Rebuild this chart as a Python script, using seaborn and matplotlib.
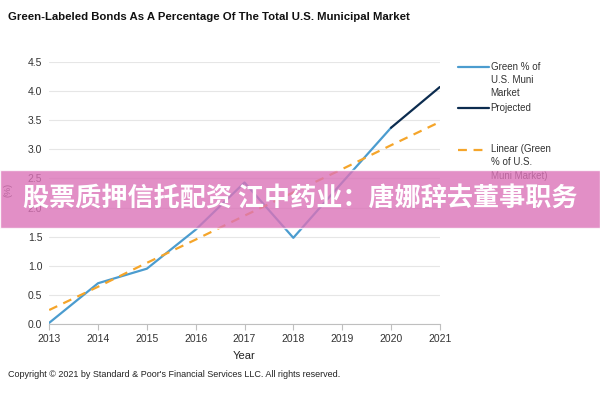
import pandas as pd
import numpy as np
import matplotlib.pyplot as plt
import seaborn as sns
from matplotlib.patches import Rectangle

years = [2013, 2014, 2015, 2016, 2017, 2018, 2019, 2020]
green_pct = [0.02, 0.70, 0.95, 1.62, 2.43, 1.48, 2.43, 3.37]
proj_years = [2020, 2021]
proj_pct = [3.37, 4.07]
trend_years = [2013, 2014, 2015, 2016, 2017, 2018, 2019, 2020, 2021]
trend_pct = [0.24, 0.64, 1.05, 1.45, 1.86, 2.26, 2.66, 3.07, 3.47]
year_ticks = list(range(2013, 2022))
y_ticks = [0.0, 0.5, 1.0, 1.5, 2.0, 2.5, 3.0, 3.5, 4.0, 4.5]

green_lbl = "Green % of\nU.S. Muni\nMarket"
proj_lbl = "Projected\n\n"
trend_lbl = "Linear (Green\n% of U.S.\nMuni Market)"

df = pd.concat([
    pd.DataFrame({"Year": years, "pct": green_pct, "series": green_lbl}),
    pd.DataFrame({"Year": proj_years, "pct": proj_pct, "series": proj_lbl}),
])
df_trend = pd.DataFrame({"Year": trend_years, "pct": trend_pct, "series": trend_lbl})

sns.set_style("white")
plt.rcParams['font.family'] = ['Liberation Sans', 'DejaVu Sans']

fig = plt.figure(figsize=(6, 4), dpi=100)
ax = fig.add_axes([0.082, 0.19, 0.651, 0.655])

palette = {green_lbl: "#4b9ccf", proj_lbl: "#0c2c4f"}
sns.lineplot(data=df, x="Year", y="pct", hue="series", palette=palette,
             linewidth=1.6, ax=ax)
sns.lineplot(data=df_trend, x="Year", y="pct", color="#f5a52a",
             linewidth=1.6, dashes=False, ax=ax, label=trend_lbl)
ax.lines[-1].set_dashes([4, 3])

ax.set_xlim(2013, 2021)
ax.set_ylim(0, 4.5)
ax.set_xticks(year_ticks)
ax.set_yticks(y_ticks)
ax.set_yticklabels([f"{v:.1f}" for v in y_ticks])
ax.yaxis.grid(True, color="#e6e6e6", linewidth=0.8)
for s in ["top", "right", "left"]:
    ax.spines[s].set_visible(False)
ax.spines["bottom"].set_color("#bfbfbf")
ax.tick_params(axis="x", bottom=True, length=4, color="#bfbfbf", labelsize=7.5,
               colors="#333333", pad=3)
ax.tick_params(axis="y", left=False, length=0, pad=5, labelsize=7.5, colors="#333333")
ax.set_xlabel("Year", fontsize=8, color="#222222", labelpad=5)
ax.set_ylabel("(%)", fontsize=6.5, color="#333333")
ax.yaxis.set_label_coords(-0.094, 0.51)

fs = 7
lsp = 1.38
handles, labels = ax.get_legend_handles_labels()
leg = ax.legend(handles, labels, loc="upper left", bbox_to_anchor=(1.023, 1.035),
                frameon=False, prop={"size": fs}, labelspacing=0.55, handlelength=3.2,
                handletextpad=0.2, borderpad=0.4)
for t in leg.get_texts():
    t.set_color("#333333")
    t.set_linespacing(lsp)
# put each legend sample on the first line of its label
for ln, lab in zip(leg.get_lines(), labels):
    n = lab.count("\n") + 1
    ln.set_ydata(np.asarray(ln.get_ydata()) + (n - 1) / 2 * fs * lsp)

fig.text(0.013, 0.957, "Green-Labeled Bonds As A Percentage Of The Total U.S. Municipal Market",
         fontsize=8.2, fontweight="bold", color="#111111", va="center")
fig.text(0.013, 0.064, "Copyright \u00a9 2021 by Standard & Poor's Financial Services LLC. All rights reserved.",
         fontsize=6.45, color="#222222", va="center")

# overlay banner
fig.patches.append(Rectangle((0, 0.43), 1, 0.145, transform=fig.transFigure,
                             facecolor="#db73b8", alpha=0.8, zorder=5))
fig.text(0.5, 0.502, "股票质押信托配资 江中药业：唐娜辞去董事职务",
         family=['Noto Sans CJK SC', 'DejaVu Sans'], fontsize=18.8, fontweight="bold",
         color="white", ha="center", va="center", zorder=6)

fig.savefig("out.png", dpi=100)
